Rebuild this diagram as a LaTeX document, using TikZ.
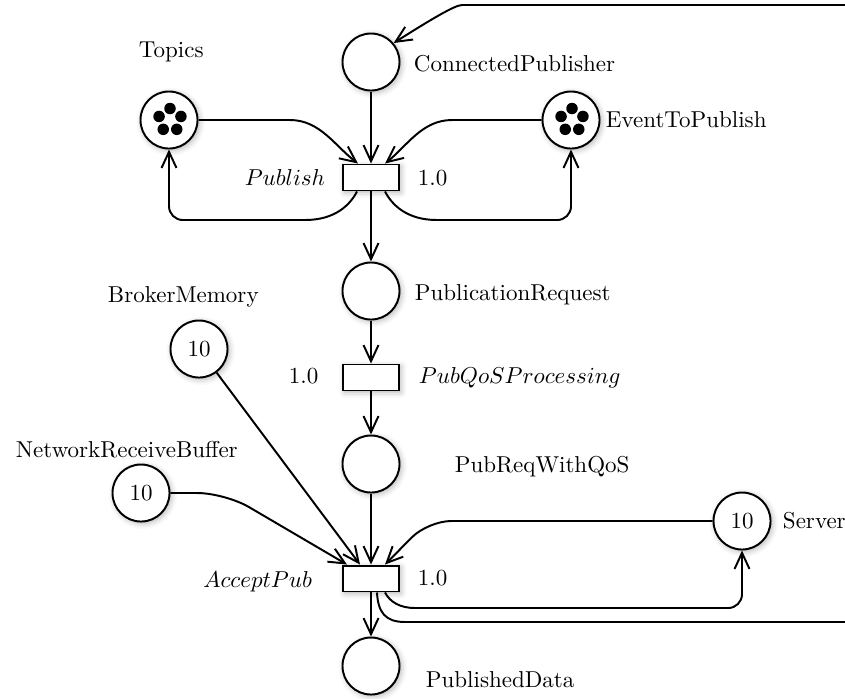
\documentclass[tikz,border=0pt]{standalone}
\usetikzlibrary{arrows.meta,calc,shadows.blur}
\begin{document}
\begin{tikzpicture}[
  x=0.4348pt, y=-0.4348pt,
  line width=0.85pt,
  softshadow/.style={blur shadow={shadow xshift=0.8pt, shadow yshift=-0.8pt, shadow blur radius=2.5pt, shadow opacity=30}},
  pnplace/.style={circle, draw, fill=white, minimum size=24.8pt, inner sep=0pt, softshadow},
  pntrans/.style={rectangle, draw, fill=white, minimum width=24.4pt, minimum height=11.3pt, inner sep=0pt, softshadow},
  flow/.style={-{Straight Barb[length=7pt,width=6.5pt]}},
  lbl/.style={anchor=base west, inner sep=0pt},
  lblr/.style={anchor=base east, inner sep=0pt},
  tokendot/.style={fill=black}
]
\useasboundingbox (0,0) rectangle (845,698);
\clip (0,0) rectangle (845,698);

% places
\node[pnplace] (cp)      at (371,62)  {};
\node[pnplace] (topics)  at (169,120) {};
\node[pnplace] (event)   at (571,120) {};
\node[pnplace] (pubreq)  at (371,291) {};
\node[pnplace] (withqos) at (371,464) {};
\node[pnplace] (broker)  at (199,349) {10};
\node[pnplace] (nrb)     at (141,493) {10};
\node[pnplace] (server)  at (742,521) {10};
\node[pnplace] (pubdata) at (371,666) {};

% transitions
\node[pntrans] (publish) at (371,177.5) {};
\node[pntrans] (pubqos)  at (371,377.5) {};
\node[pntrans] (accept)  at (371,578.5) {};

% tokens (five each)
\foreach \p in {topics,event}
  \foreach \a in {270,198,342,126,54}
    \fill[tokendot] ($(\p)+(1,0)+(\a:11.5)$) circle (2.5pt);

% place labels
\node[lbl] at (138,57)  {Topics};
\node[lbl] at (413,71)  {ConnectedPublisher};
\node[lbl] at (605,127) {EventToPublish};
\node[lbl] at (414,300) {PublicationRequest};
\node[lbl] at (107,302) {BrokerMemory};
\node[lbl] at (15,457)  {NetworkReceiveBuffer};
\node[lbl] at (454,472) {PubReqWithQoS};
\node[lbl] at (782,528) {Server};
\node[lbl] at (425,687) {PublishedData};

% transition labels and rates
\node[lblr] at (326,185) {$Publish$};
\node[lbl]  at (417,185) {1.0};
\node[lbl]  at (288,383) {1.0};
\node[lbl]  at (418,383) {$PubQoSProcessing$};
\node[lblr] at (313,587) {$AcceptPub$};
\node[lbl]  at (417,585) {1.0};

% arcs around Publish
\draw[flow] (cp) -- (publish);
\draw[flow] (topics.east) -- (290,120)
  .. controls (320,120) and (335,146) .. ($(publish.north)+(-13,0)$);
\draw[flow] ($(publish.south)+(-14,0)$)
  .. controls (350,205) and (335,220) .. (305,220)
  [rounded corners=6pt] -- (169,220) -- (topics.south);
\draw[flow] (event.west) -- (452,120)
  .. controls (422,120) and (407,146) .. ($(publish.north)+(14,0)$);
\draw[flow] ($(publish.south)+(14,0)$)
  .. controls (392,205) and (407,220) .. (437,220)
  [rounded corners=6pt] -- (571,220) -- (event.south);
\draw[flow] (publish) -- (pubreq);

% main chain
\draw[flow] (pubreq) -- (pubqos);
\draw[flow] (pubqos) -- (withqos);
\draw[flow] (withqos) -- (accept);
\draw[flow] (accept) -- (pubdata);

% arcs into AcceptPub
\draw[flow] (broker) -- ($(accept.north)+(-11,0)$);
\draw[flow,rounded corners=12pt] (nrb.east) -- (225,493) -- ($(accept.north)+(-24,0)$);
\draw[flow,rounded corners=10pt] (server.west) -- (428,521) -- ($(accept.north)+(14,0)$);

% arcs out of AcceptPub
\draw[flow] ($(accept.south)+(14,0)$)
  .. controls (390,602) and (400,608) .. (415,608)
  [rounded corners=6pt] -- (742,608) -- (server.south);
\draw[flow] ($(accept.south)+(6,0)$)
  .. controls (378,612) and (385,622) .. (405,622)
  [rounded corners=10pt] -- (880,622) -- (880,5) -- (485,5)
  .. controls (455,5) and (430,20) .. (cp.40);
\end{tikzpicture}
\end{document}
